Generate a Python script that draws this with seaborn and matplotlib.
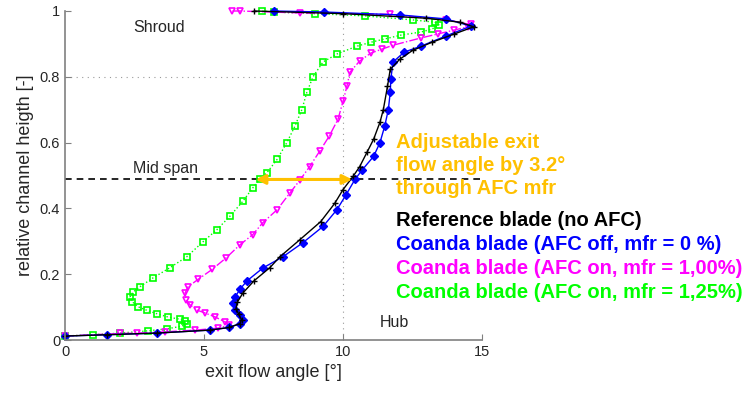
import matplotlib
matplotlib.use("Agg")
import matplotlib.pyplot as plt
import pandas as pd
import seaborn as sns

# exit flow angle [deg] vs relative channel height (hub -> shroud)
green_x = [0.0, 1.0, 1.98, 3.0, 3.67, 4.2, 4.38, 4.3, 4.14, 3.7, 3.3, 2.95, 2.63, 2.42, 2.34, 2.45, 2.7, 3.17,
           3.78, 4.38, 4.97, 5.46, 5.93, 6.4, 6.76, 7.0, 7.27, 7.63, 7.98, 8.27, 8.52, 8.7, 8.92, 9.28, 9.8,
           10.5, 11.0, 11.5, 12.1, 12.8, 13.2, 13.45, 13.3, 12.5, 10.8, 9.0, 7.5, 7.1]
green_y = [0.012, 0.016, 0.021, 0.028, 0.034, 0.042, 0.050, 0.057, 0.063, 0.070, 0.080, 0.090, 0.101, 0.116,
           0.131, 0.146, 0.162, 0.189, 0.220, 0.253, 0.299, 0.335, 0.376, 0.422, 0.463, 0.488, 0.509, 0.549,
           0.600, 0.650, 0.700, 0.753, 0.800, 0.845, 0.870, 0.893, 0.905, 0.915, 0.927, 0.936, 0.945, 0.958,
           0.966, 0.973, 0.985, 0.992, 0.997, 1.0]

magenta_x = [0.0, 1.98, 2.59, 3.6, 4.68, 5.5, 5.9, 5.76, 5.4, 5.04, 4.74, 4.5, 4.35, 4.32, 4.43, 4.8, 5.3,
             5.8, 6.3, 6.75, 7.12, 7.63, 8.1, 8.45, 8.8, 9.17, 9.5, 9.82, 10.0, 10.14, 10.25, 10.6, 11.0,
             11.4, 11.8, 12.8, 13.4, 14.0, 14.5, 14.6, 13.7, 11.7, 8.45, 6.3, 6.0]
magenta_y = [0.012, 0.020, 0.021, 0.025, 0.030, 0.036, 0.045, 0.055, 0.070, 0.082, 0.091, 0.107, 0.122,
             0.143, 0.162, 0.185, 0.215, 0.250, 0.290, 0.320, 0.357, 0.396, 0.448, 0.486, 0.527, 0.575,
             0.619, 0.671, 0.725, 0.771, 0.814, 0.848, 0.872, 0.884, 0.896, 0.918, 0.930, 0.942, 0.952,
             0.960, 0.973, 0.990, 0.994, 1.0, 1.0]

blue_x = [0.0, 1.5, 3.3, 5.2, 5.9, 6.3, 6.4, 6.3, 6.12, 6.05, 6.12, 6.3, 6.55, 7.12, 7.84, 8.56, 9.28, 9.78,
          10.1, 10.43, 10.7, 11.1, 11.33, 11.5, 11.63, 11.7, 11.72, 11.8, 12.2, 12.8, 13.7, 14.6, 13.7,
          12.05, 9.3, 7.5]
blue_y = [0.012, 0.016, 0.021, 0.030, 0.038, 0.050, 0.061, 0.076, 0.091, 0.113, 0.131, 0.155, 0.180, 0.219,
          0.253, 0.296, 0.345, 0.396, 0.440, 0.488, 0.518, 0.558, 0.600, 0.650, 0.700, 0.753, 0.793, 0.845,
          0.875, 0.893, 0.924, 0.954, 0.976, 0.988, 0.997, 1.0]

black_x = [0.0, 1.5, 3.3, 5.2, 5.9, 6.3, 6.35, 6.25, 6.15, 6.2, 6.4, 6.8, 7.37, 7.73, 8.45, 9.2, 9.7, 10.0,
           10.36, 10.6, 10.86, 11.1, 11.33, 11.45, 11.6, 11.7, 12.05, 12.5, 13.2, 14.0, 14.7, 14.2, 13.0,
           10.0, 6.8]
black_y = [0.012, 0.016, 0.021, 0.030, 0.038, 0.050, 0.062, 0.078, 0.095, 0.115, 0.143, 0.180, 0.220, 0.253,
           0.305, 0.360, 0.415, 0.457, 0.497, 0.527, 0.570, 0.610, 0.662, 0.700, 0.771, 0.823, 0.854, 0.880,
           0.905, 0.930, 0.952, 0.966, 0.978, 0.992, 1.0]

mid_span = 0.488
arrow_from, arrow_to = 10.43, 6.76

legend_lines = ["Reference blade (no AFC)",
                "Coanda blade (AFC off, mfr = 0 %)",
                "Coanda blade (AFC on, mfr = 1,00%)",
                "Coanda blade (AFC on, mfr = 1,25%)"]
legend_colors = ["black", "#0000ff", "#ff00ff", "#00ff00"]
note_lines = ["Adjustable exit", "flow angle by 3.2\u00b0", "through AFC mfr"]
orange = "#ffc000"

sns.set_style("white")
plt.rcParams['font.family'] = ['Liberation Sans', 'DejaVu Sans']

fig = plt.figure(figsize=(7.44, 3.93), dpi=100)
ax = fig.add_axes([65/744, 53/393, 417/744, 329/393])

ax.axvline(10, color="#999999", ls=(0, (1, 4)), lw=0.8, zorder=0)
ax.axhline(0.8, color="#999999", ls=(0, (1, 4)), lw=0.8, zorder=0)
ax.plot([0, 15], [mid_span, mid_span], color="black", ls=(0, (4, 3)), lw=1.2, zorder=1)

series = [
    (green_x, green_y, "#00ff00", ":", "s", dict(mfc="none", mew=1.2, ms=4.5)),
    (magenta_x, magenta_y, "#ff00ff", "-.", "v", dict(mfc="none", mew=1.2, ms=5)),
    (blue_x, blue_y, "#0000ff", "-", "D", dict(mfc="#0000ff", mew=1.0, ms=4)),
    (black_x, black_y, "black", "-", "+", dict(mew=1.0, ms=4)),
]
for xs, ys, col, ls, mk, kw in series:
    assert len(xs) == len(ys)
    df = pd.DataFrame({"angle": xs, "height": ys})
    sns.lineplot(data=df, x="angle", y="height", sort=False, estimator=None, ax=ax,
                 color=col, linestyle=ls, lw=1.0, marker=mk, mec=col, clip_on=False, **kw)

ax.annotate("", xy=(arrow_to, mid_span), xytext=(arrow_from, mid_span),
            arrowprops=dict(arrowstyle="<|-|>", color=orange, lw=2.2, mutation_scale=14), zorder=5)

ax.text(2.45, 0.95, "Shroud", fontsize=11.5, va="center")
ax.text(2.45, 0.521, "Mid span", fontsize=11.5, va="center")
ax.text(11.33, 0.052, "Hub", fontsize=11.5, va="center")

ax.set_xlim(0, 15)
ax.set_ylim(0, 1)
ax.set_xticks([0, 5, 10, 15])
ax.set_yticks([0, 0.2, 0.4, 0.6, 0.8, 1])
ax.set_yticklabels(["0", "0.2", "0.4", "0.6", "0.8", "1"])
ax.tick_params(direction="in", length=4, color="#808080", labelsize=10.5, left=True, bottom=True)
ax.set_xlabel("exit flow angle [\u00b0]", fontsize=13)
ax.set_ylabel("relative channel heigth [-]", fontsize=13)
sns.despine(ax=ax)
for s in ["left", "bottom"]:
    ax.spines[s].set_color("#808080")
    ax.spines[s].set_linewidth(1.2)

for i, t in enumerate(note_lines):
    fig.text(396/744, 1 - (142 + 23.5*i)/393, t, color=orange, fontsize=14.5, fontweight="bold", va="center")
for i, (t, c) in enumerate(zip(legend_lines, legend_colors)):
    fig.text(396/744, 1 - (220 + 24.3*i)/393, t, color=c, fontsize=14.5, fontweight="bold", va="center")

fig.savefig("out.png", dpi=100)
